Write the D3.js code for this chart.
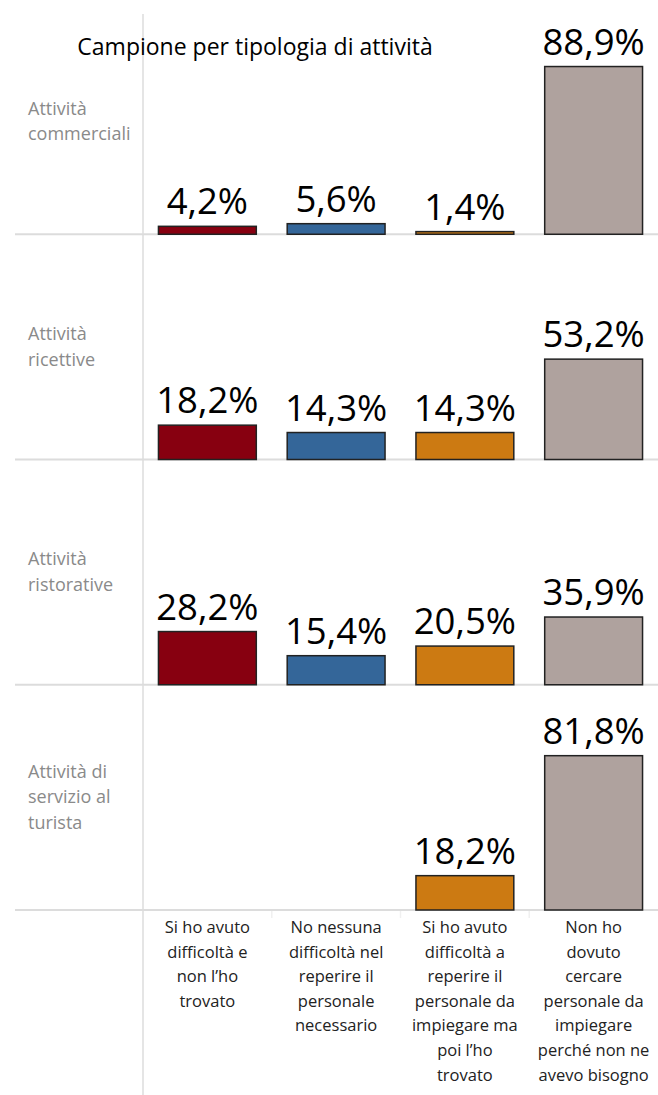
<!DOCTYPE html>
<html><head><meta charset="utf-8">
<script src="https://cdn.jsdelivr.net/npm/d3@7"></script>
<style>html,body{margin:0;padding:0;background:#fff;}svg{display:block;}</style>
</head><body>
<script>
// ---- data ----
const columns = ["Si ho avuto difficoltà e non l’ho trovato", "No nessuna difficoltà nel reperire il personale necessario", "Si ho avuto difficoltà a reperire il personale da impiegare ma poi l’ho trovato", "Non ho dovuto cercare personale da impiegare perché non ne avevo bisogno"];
const columnLines = [
  ["Si ho avuto", "difficoltà e", "non l’ho", "trovato"],
  ["No nessuna", "difficoltà nel", "reperire il", "personale", "necessario"],
  ["Si ho avuto", "difficoltà a", "reperire il", "personale da", "impiegare ma", "poi l’ho", "trovato"],
  ["Non ho", "dovuto", "cercare", "personale da", "impiegare", "perché non ne", "avevo bisogno"]
];
const rows = ["Attività commerciali", "Attività ricettive", "Attività ristorative", "Attività di servizio al turista"];
const rowLines = [["Attività", "commerciali"], ["Attività", "ricettive"], ["Attività", "ristorative"], ["Attività di", "servizio al", "turista"]];
const siNonTrovato = [4.2, 18.2, 28.2, null];
const noDifficolta = [5.6, 14.3, 15.4, null];
const siTrovato = [1.4, 14.3, 20.5, 18.2];
const nonBisogno = [88.9, 53.2, 35.9, 81.8];
const seriesColors = ["#870010", "#346699", "#cc7a12", "#afa29e"];
const subtitle = "Campione per tipologia di attività";

const W = 658, H = 1095;
const svg = d3.select("body").append("svg").attr("width", W).attr("height", H);

const series = [siNonTrovato, noDifficolta, siTrovato, nonBisogno];
const cells = [];
rows.forEach((r, i) => columns.forEach((c, j) => {
  const v = series[j][i];
  if (v != null) cells.push({row: r, col: c, v, j});
}));

const x = d3.scaleBand().domain(columns).range([143, 658]).paddingInner(0.24).paddingOuter(0.12);
const rowBand = d3.scaleBand().domain(rows).range([9, 910]);
const fmt = v => d3.format(".1f")(v).replace(".", ",") + "%";

const grid = "#dcdcdc";
// vertical divider
svg.append("line").attr("x1", 143).attr("x2", 143).attr("y1", 14).attr("y2", H)
  .attr("stroke", grid).attr("stroke-width", 1.5);

// row separators
rows.forEach(r => {
  svg.append("line").attr("x1", 15).attr("x2", W)
    .attr("y1", rowBand(r) + rowBand.bandwidth()).attr("y2", rowBand(r) + rowBand.bandwidth())
    .attr("stroke", grid).attr("stroke-width", 2);
});

// faint column dividers in header
columns.slice(1).forEach(c => {
  const xx = x(c) - x.step() * x.paddingInner() / 2;
  svg.append("line").attr("x1", xx).attr("x2", xx).attr("y1", 911).attr("y2", 918)
    .attr("stroke", "#f0f0f0").attr("stroke-width", 1.5);
});

// bars
cells.forEach(d => {
  const top = rowBand(d.row), bottom = top + rowBand.bandwidth();
  const y = d3.scaleLinear().domain([0, 119.4]).range([bottom, top]);
  svg.append("rect")
    .attr("x", x(d.col)).attr("width", x.bandwidth())
    .attr("y", y(d.v)).attr("height", bottom - y(d.v))
    .attr("fill", seriesColors[d.j]).attr("stroke", "#222").attr("stroke-width", 1.5);
  svg.append("text")
    .attr("x", x(d.col) + x.bandwidth() / 2).attr("y", y(d.v) - 12)
    .attr("text-anchor", "middle").attr("font-family", "Open Sans").attr("font-size", 36.5)
    .attr("font-weight", 500).attr("fill", "#000").text(fmt(d.v));
});

// row labels
rows.forEach((r, i) => {
  const lines = rowLines[i];
  const cy = rowBand(r) + rowBand.bandwidth() / 2;
  const lh = 25.5;
  const t = svg.append("text").attr("font-family", "Open Sans").attr("font-size", 18)
    .attr("fill", "#8a8a8a");
  lines.forEach((l, k) => {
    t.append("tspan").attr("x", 28)
      .attr("y", cy + (k - (lines.length - 1) / 2) * lh + 6).text(l);
  });
});

// column labels
columns.forEach((c, j) => {
  const t = svg.append("text").attr("font-family", "Open Sans").attr("font-size", 16.5)
    .attr("fill", "#222").attr("text-anchor", "middle");
  columnLines[j].forEach((l, k) => {
    t.append("tspan").attr("x", x(c) + x.bandwidth() / 2).attr("y", 933 + k * 24.6).text(l);
  });
});

// subtitle
svg.append("text").attr("x", 255).attr("y", 55).attr("text-anchor", "middle")
  .attr("font-family", "Open Sans").attr("font-size", 23).attr("fill", "#000").text(subtitle);
</script>
</body></html>
